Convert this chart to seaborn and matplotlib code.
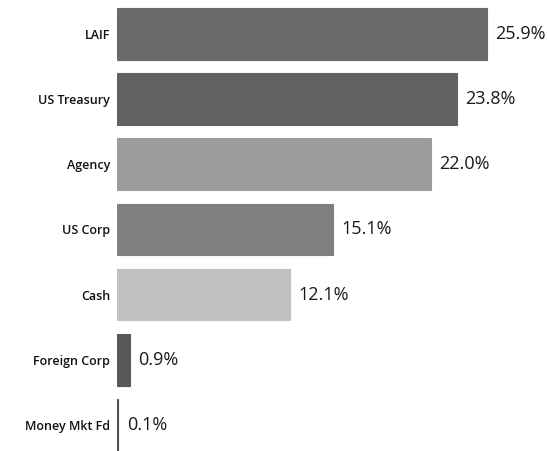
import matplotlib
matplotlib.use("Agg")
import matplotlib.pyplot as plt
import seaborn as sns
import pandas as pd

categories = ["LAIF", "US Treasury", "Agency", "US Corp", "Cash", "Foreign Corp", "Money Mkt Fd"]
values = [25.9, 23.8, 22.0, 15.1, 12.1, 0.9, 0.1]
colors = ["#6a6a6a", "#626262", "#9c9c9c", "#808080", "#c2c2c2", "#585858", "#505050"]

sns.set_style("white")
plt.rcParams["font.family"] = ["Open Sans", "DejaVu Sans"]

df = pd.DataFrame({"category": categories, "value": values})

fig = plt.figure(figsize=(5.47, 4.51), dpi=100)
ax = fig.add_axes([117 / 547, 0.0, 1 - 117 / 547, 1.0])
sns.barplot(data=df, x="value", y="category", hue="category", palette=colors,
            legend=False, width=0.79, ax=ax, saturation=1)

for bar, v, c in zip(ax.patches, values, colors):
    bar.set_edgecolor(c)
    bar.set_linewidth(0.8)

for cont in ax.containers:
    ax.bar_label(cont, fmt="%.1f%%", padding=6, fontsize=13, color="#1a1a1a")

ax.set_xlim(0, 30.1)
ax.set_ylim(6.4, -0.52)
ax.set_xlabel("")
ax.set_ylabel("")
ax.set_xticks([])
ax.tick_params(axis="y", length=0, pad=5, labelsize=9, labelcolor="#111111")
for lab in ax.get_yticklabels():
    lab.set_fontweight("semibold")
for s in ax.spines.values():
    s.set_visible(False)

fig.savefig("out.png", dpi=100)
